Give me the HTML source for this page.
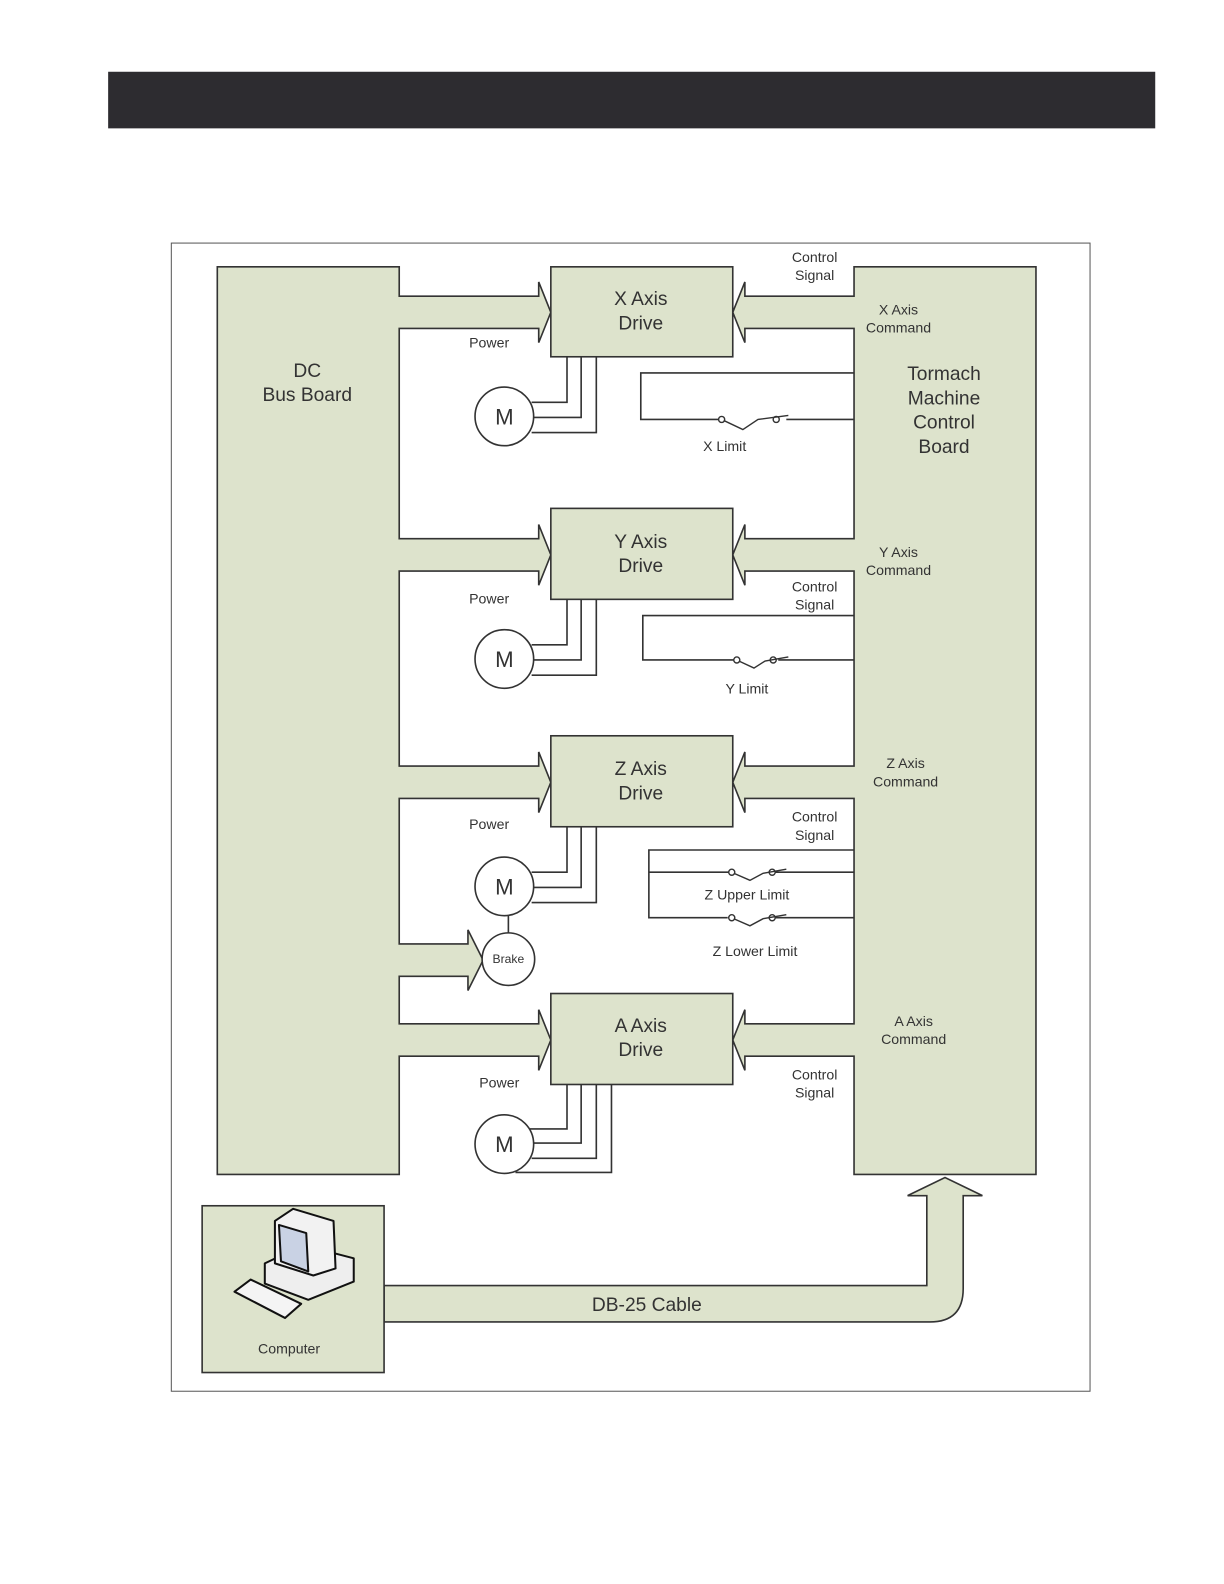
<!DOCTYPE html>
<html><head><meta charset="utf-8"><style>
html,body{margin:0;padding:0;background:#fff;}
svg{display:block;}
text{font-family:"Liberation Sans",sans-serif;fill:#333;}
</style></head><body>
<svg width="1224" height="1584" viewBox="0 0 1224 1584" xmlns="http://www.w3.org/2000/svg">
<g transform="scale(1.0107)">
<rect x="107" y="71" width="1036" height="56" fill="#2d2c30"/>
<rect x="169.5" y="240.5" width="909" height="1136" fill="#fff" stroke="#555" stroke-width="1"/>
<g fill="#dde3cc" stroke="#333" stroke-width="1.6" stroke-linejoin="miter">
<path d="M215,264 H395 V293 H533 V279 L545,309 L533,339 V325 H395 V533 H533 V519 L545,549 L533,579 V565 H395 V758 H533 V744 L545,774 L533,804 V790 H395 V934 H463 V920 L478,950 L463,980 V966 H395 V1013 H533 V999 L545,1029 L533,1059 V1045 H395 V1162 H215 Z"/>
<path d="M845,264 H1025 V1162 H845 V1045 H737 V1059 L725,1029 L737,999 V1013 H845 V790 H737 V804 L725,774 L737,744 V758 H845 V565 H737 V579 L725,549 L737,519 V533 H845 V325 H737 V339 L725,309 L737,279 V293 H845 Z"/>
<path d="M380,1272 H917 V1183 H898 L935,1165 L972,1183 H953 V1275 Q953,1308 920,1308 H380 Z"/>
<rect x="545" y="264" width="180" height="89"/>
<rect x="545" y="503" width="180" height="90"/>
<rect x="545" y="728" width="180" height="90"/>
<rect x="545" y="983" width="180" height="90"/>
<rect x="200" y="1193" width="180" height="165"/>
</g>
<g fill="none" stroke="#333" stroke-width="1.6">
<path d="M561,353 V398 H526 M575,353 V413 H528 M590,353 V428 H526"/>
<path d="M561,593 V638 H526 M575,593 V653 H528 M590,593 V668 H526"/>
<path d="M561,818 V863 H526 M575,818 V878 H528 M590,818 V893 H526"/>
<path d="M561,1073 V1117 H524 M575,1073 V1131 H528 M590,1073 V1146 H526 M605,1073 V1160 H510"/>
<line x1="503" y1="906" x2="503" y2="923"/>
<path d="M845,369 H634 V415 H711 M778,415 H845"/>
<path d="M845,609 H636 V653 H726 M770,653 H845"/>
<path d="M845,841 H642 V908 H720 M767,908 H845 M642,863 H721 M767,863 H845"/>
</g>
<g fill="#fff" stroke="#333" stroke-width="1.6">
<circle cx="499" cy="412" r="29"/>
<circle cx="499" cy="652" r="29"/>
<circle cx="499" cy="877" r="29"/>
<circle cx="499" cy="1132" r="29"/>
<circle cx="503" cy="949" r="26"/>
</g>
<g fill="none" stroke="#333" stroke-width="1.4">
<circle cx="714" cy="415" r="3" fill="#fff"/><circle cx="768" cy="415" r="3" fill="#fff"/>
<path d="M716,416 L735,425 L750,415 L780,411"/>
<circle cx="729" cy="653" r="3" fill="#fff"/><circle cx="765" cy="653" r="3" fill="#fff"/>
<path d="M731,654 L746,661 L757,654 L780,650"/>
<circle cx="724" cy="863" r="3" fill="#fff"/><circle cx="764" cy="863" r="3" fill="#fff"/>
<path d="M726,864 L742,871 L755,864 L778,860"/>
<circle cx="724" cy="908" r="3" fill="#fff"/><circle cx="764" cy="908" r="3" fill="#fff"/>
<path d="M726,909 L742,916 L755,909 L778,905"/>
</g>
<g stroke="#111" stroke-width="2" stroke-linejoin="round">
<path d="M262,1250 L300,1232 L350,1245 L350,1268 L305,1286 L262,1270 Z" fill="#eee"/>
<path d="M272,1208 L290,1196 L330,1208 L332,1255 L310,1262 L272,1250 Z" fill="#f2f2f2"/>
<path d="M276,1212 L303,1220 L305,1258 L278,1248 Z" fill="#c9d2e4"/>
<path d="M232,1278 L248,1266 L298,1290 L282,1304 Z" fill="#f4f4f4"/>
</g>
<g font-size="19" text-anchor="middle">
<text x="634" y="302">X Axis</text><text x="634" y="326">Drive</text>
<text x="634" y="542">Y Axis</text><text x="634" y="566">Drive</text>
<text x="634" y="767">Z Axis</text><text x="634" y="791">Drive</text>
<text x="634" y="1021">A Axis</text><text x="634" y="1045">Drive</text>
<text x="304" y="373">DC</text><text x="304" y="397">Bus Board</text>
<text x="934" y="376">Tormach</text><text x="934" y="400">Machine</text><text x="934" y="424">Control</text><text x="934" y="448">Board</text>
<text x="640" y="1297">DB-25 Cable</text>
<text x="499" y="420" font-size="22">M</text>
<text x="499" y="660" font-size="22">M</text>
<text x="499" y="885" font-size="22">M</text>
<text x="499" y="1140" font-size="22">M</text>
</g>
<g font-size="14" text-anchor="middle">
<text x="806" y="259">Control</text><text x="806" y="277">Signal</text>
<text x="889" y="311">X Axis</text><text x="889" y="329">Command</text>
<text x="484" y="344">Power</text>
<text x="717" y="446">X Limit</text>
<text x="889" y="551">Y Axis</text><text x="889" y="569">Command</text>
<text x="806" y="585">Control</text><text x="806" y="603">Signal</text>
<text x="484" y="597">Power</text>
<text x="739" y="686">Y Limit</text>
<text x="896" y="760">Z Axis</text><text x="896" y="778">Command</text>
<text x="806" y="813">Control</text><text x="806" y="831">Signal</text>
<text x="484" y="820">Power</text>
<text x="739" y="890">Z Upper Limit</text>
<text x="747" y="946">Z Lower Limit</text>
<text x="503" y="953" font-size="12">Brake</text>
<text x="904" y="1015">A Axis</text><text x="904" y="1033">Command</text>
<text x="806" y="1068">Control</text><text x="806" y="1086">Signal</text>
<text x="494" y="1076">Power</text>
<text x="286" y="1339">Computer</text>
</g>
</g>
</svg>
</body></html>
